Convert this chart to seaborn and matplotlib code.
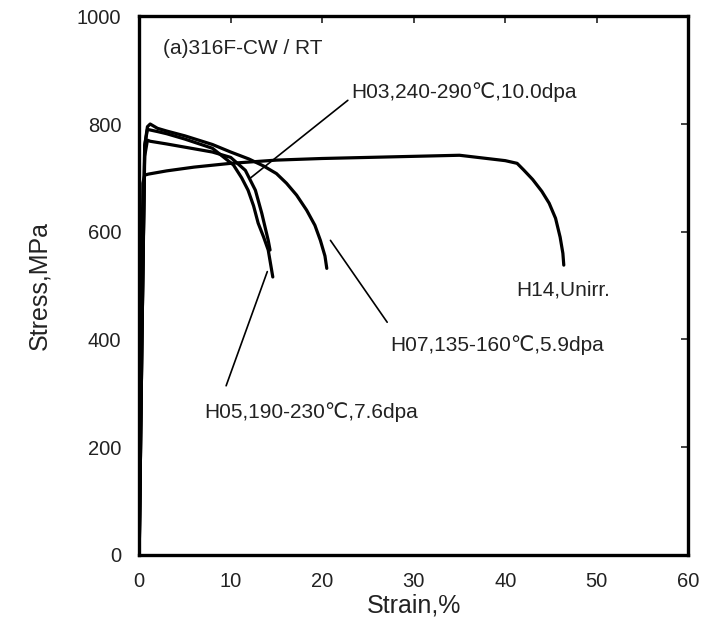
import matplotlib
matplotlib.use("Agg")
import matplotlib.pyplot as plt
import seaborn as sns
import pandas as pd

# ---- data ----
h14_strain = [0, 0.2, 0.4, 0.6, 1, 3, 6, 10, 15, 20, 25, 30, 35, 37, 40, 41.3, 42, 43, 44, 44.8, 45.5, 46.0, 46.3, 46.4]
h14_stress = [0, 350, 690, 705, 707, 713, 720, 727, 733, 736, 738, 740, 742, 738, 732, 727, 715, 697, 675, 653, 625, 590, 560, 538]

h07_strain = [0, 0.3, 0.6, 0.9, 1.2, 2, 3, 5, 8, 10, 12, 13.6, 15, 16.1, 17.2, 18.3, 19.2, 19.8, 20.3, 20.5]
h07_stress = [0, 400, 760, 795, 800, 792, 787, 778, 762, 748, 735, 722, 708, 690, 668, 640, 612, 584, 555, 532]

h05_strain = [0, 0.3, 0.6, 0.9, 2, 3, 5, 8, 10.3, 11.2, 11.9, 12.5, 13.0, 13.6, 14.1, 14.6]
h05_stress = [0, 400, 760, 790, 786, 782, 772, 755, 724, 700, 677, 648, 616, 590, 566, 516]

h03_strain = [0, 0.3, 0.6, 0.9, 1.2, 3, 5, 8, 10, 11.6, 12.7, 13.4, 14.1, 14.3]
h03_stress = [0, 400, 740, 770, 768, 763, 757, 748, 738, 714, 677, 634, 584, 566]

specimens = ["H14", "H07", "H05", "H03"]
x_ticks = [0, 10, 20, 30, 40, 50, 60]
y_ticks = [0, 200, 400, 600, 800, 1000]

frames = []
for name, xs, ys in [("H14", h14_strain, h14_stress), ("H07", h07_strain, h07_stress),
                     ("H05", h05_strain, h05_stress), ("H03", h03_strain, h03_stress)]:
    frames.append(pd.DataFrame({"strain": xs, "stress": ys, "specimen": name,
                                "order": range(len(xs))}))
df = pd.concat(frames, ignore_index=True)

sns.set_theme(style="white")
plt.rcParams["font.family"] = ["Liberation Sans", "DejaVu Sans"]

fig = plt.figure(figsize=(7.03, 6.27), dpi=100)
ax = fig.add_axes([0.198, 0.115, 0.781, 0.859])

sns.lineplot(data=df, x="strain", y="stress", hue="specimen", units="specimen",
             estimator=None, sort=False, palette=["black"] * 4, linewidth=2.3,
             legend=False, ax=ax)

ax.set_xlim(0, 60)
ax.set_ylim(0, 1000)
ax.set_xticks(x_ticks)
ax.set_yticks(y_ticks)
ax.tick_params(direction="in", length=5, width=1.2, top=True, right=True,
               labelsize=14.5, colors="#222222")
ax.tick_params(axis="y", pad=13)
ax.tick_params(axis="x", pad=12)
for s in ax.spines.values():
    s.set_linewidth(2.4)
    s.set_color("black")
    s.set_visible(True)

ax.set_xlabel("Strain,%", fontsize=18, color="#222222", labelpad=2)
ax.set_ylabel("Stress,MPa", fontsize=18, color="#222222", labelpad=18)

tc = "#222222"
fs = 15
ax.text(2.6, 940, "(a)316F-CW / RT", fontsize=fs, color=tc, va="center", ha="left")

lp = dict(arrowstyle="-", color="black", lw=1.2, shrinkA=0, shrinkB=0)
ax.text(23.2, 859, "H03,240-290\u2103,10.0dpa", fontsize=fs, color=tc, va="center", ha="left")
ax.annotate("", xy=(12.1, 699), xytext=(22.8, 844), arrowprops=lp)

ax.text(27.4, 390, "H07,135-160\u2103,5.9dpa", fontsize=fs, color=tc, va="center", ha="left")
ax.annotate("", xy=(20.9, 584), xytext=(27.1, 432), arrowprops=lp)

ax.text(7.1, 265, "H05,190-230\u2103,7.6dpa", fontsize=fs, color=tc, va="center", ha="left")
ax.annotate("", xy=(14.0, 526), xytext=(9.5, 314), arrowprops=lp)

ax.text(41.2, 492, "H14,Unirr.", fontsize=fs, color=tc, va="center", ha="left")

fig.savefig("out.png", dpi=100)
